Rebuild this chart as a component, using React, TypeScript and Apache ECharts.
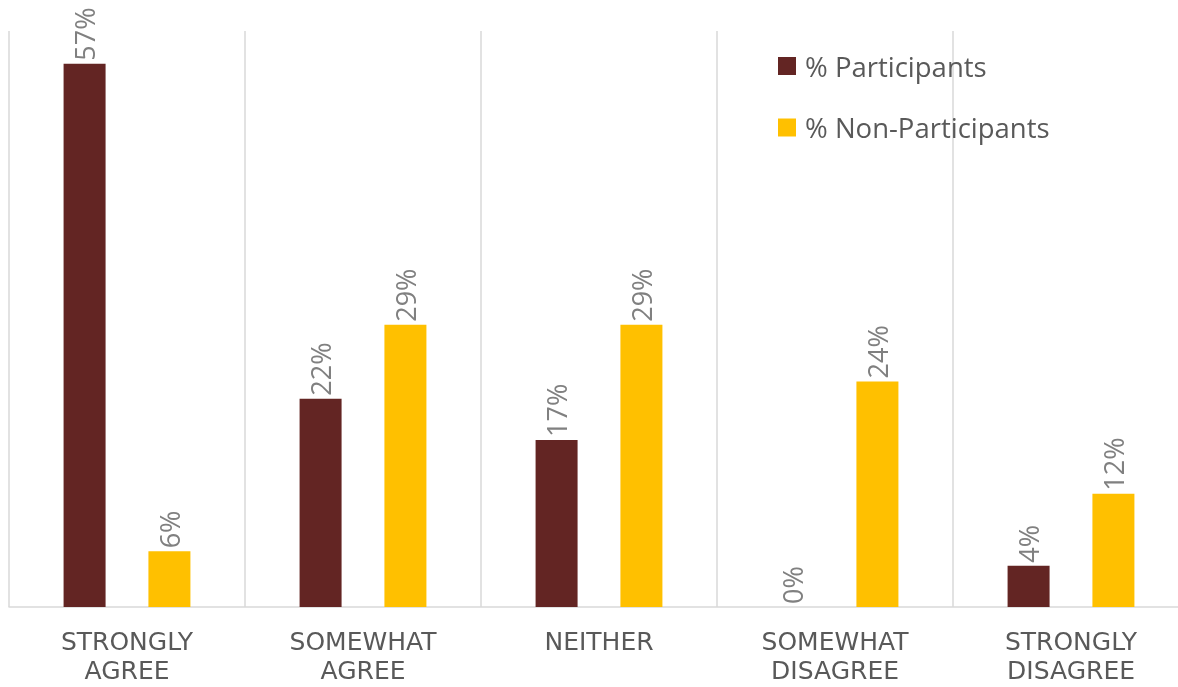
import React, { useEffect, useRef } from "react";
import * as echarts from "echarts";

const categories = ["STRONGLY\nAGREE", "SOMEWHAT\nAGREE", "NEITHER", "SOMEWHAT\nDISAGREE", "STRONGLY\nDISAGREE"];
const participants = [56.6, 21.7, 17.4, 0, 4.3];
const nonParticipants = [5.8, 29.4, 29.4, 23.5, 11.8];
const seriesNames = ["% Participants", "% Non-Participants"];
const colors = ["#632523", "#FFC000"];

export default function App() {
  const ref = useRef<HTMLDivElement>(null);
  useEffect(() => {
    const chart = echarts.init(ref.current!, null, { renderer: "svg" });
    const label = {
      show: true,
      position: "top",
      rotate: 90,
      align: "left",
      verticalAlign: "middle",
      distance: 3,
      color: "#808080",
      fontFamily: "Open Sans",
      fontSize: 27,
      formatter: (p: any) => Math.round(p.value) + "%",
    };
    chart.setOption({
      animation: false,
      color: colors,
      legend: {
        orient: "vertical",
        left: 773,
        top: 46,
        itemWidth: 18,
        itemHeight: 18,
        itemGap: 31.5,
        icon: "rect",
        textStyle: {
          color: "#595959",
          fontFamily: "Open Sans",
          fontSize: 27.5,
          lineHeight: 30,
          padding: [0, 0, 0, 4],
        },
        data: seriesNames,
      },
      grid: { left: 9, top: 31, width: 1180, height: 576, containLabel: false, outerBoundsMode: "none" },
      xAxis: {
        type: "category",
        data: categories,
        axisLine: { lineStyle: { color: "#d9d9d9", width: 1.5 } },
        axisTick: { show: false },
        splitLine: { show: true, lineStyle: { color: "#d9d9d9", width: 1.5 } },
        axisLabel: {
          interval: 0,
          color: "#595959",
          fontFamily: "DejaVu Sans",
          fontSize: 25,
          lineHeight: 29,
          margin: 20,
        },
      },
      yAxis: {
        type: "value",
        min: 0,
        max: 60,
        show: false,
        splitLine: { show: false },
      },
      series: [
        { name: seriesNames[0], type: "bar", data: participants, barWidth: 42, barGap: "102%", label },
        { name: seriesNames[1], type: "bar", data: nonParticipants, barWidth: 42, barGap: "102%", label },
      ],
    });
    return () => chart.dispose();
  }, []);
  return <div ref={ref} style={{ position: "fixed", left: 0, top: 0, width: 1178, height: 687 }} />;
}
